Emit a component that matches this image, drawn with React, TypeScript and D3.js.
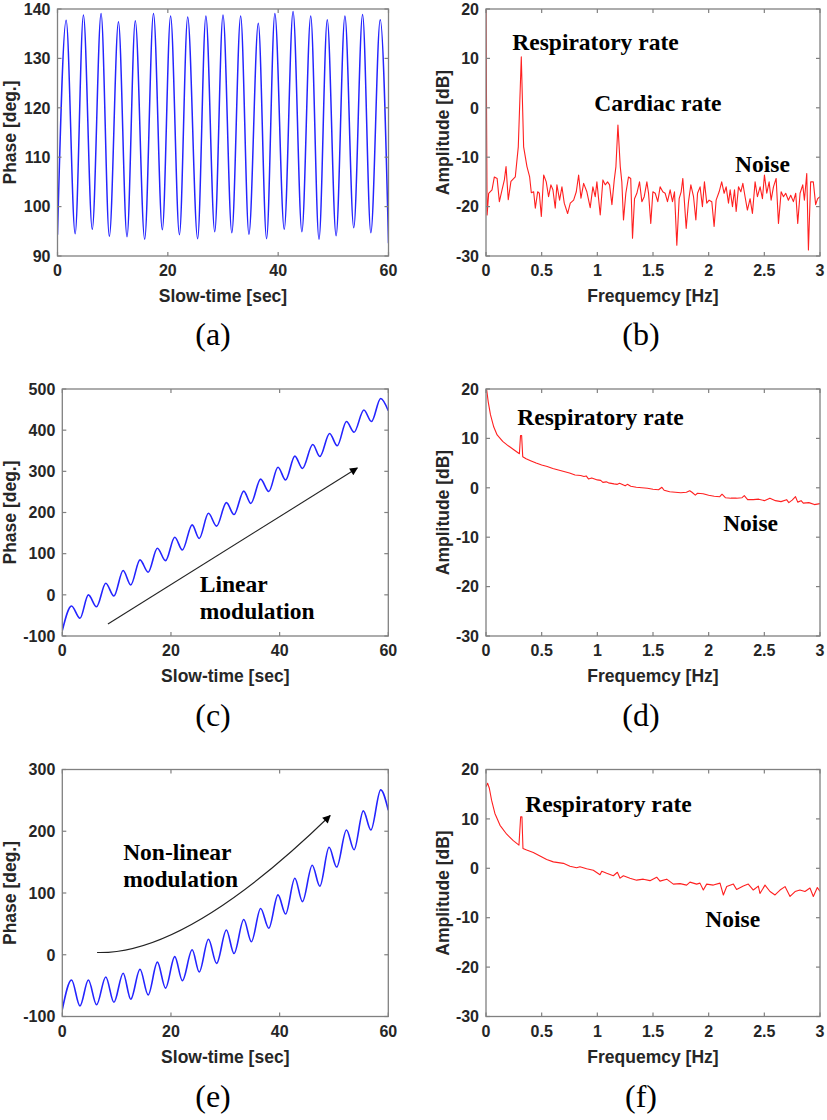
import React from 'react';
import * as d3 from 'd3';

// ---------- tick labels ----------
const timeTicks = [0, 20, 40, 60];
const phaseTicksA = [90, 100, 110, 120, 130, 140];
const phaseTicksC = [-100, 0, 100, 200, 300, 400, 500];
const phaseTicksE = [-100, 0, 100, 200, 300];
const freqTicks = [0, 0.5, 1, 1.5, 2, 2.5, 3];
const ampTicks = [-30, -20, -10, 0, 10, 20];

// ---------- (a) phase, peaks / troughs ----------
const aT = [0, 1.57, 3.2, 4.7, 6.3, 7.9, 9.4, 11.05, 12.6, 14.1, 15.8, 17.4, 19.0, 20.5, 22.1, 23.6, 25.4, 26.9, 28.5, 30.0, 31.6, 33.2, 34.7, 36.4, 37.9, 39.4, 41.1, 42.7, 44.3, 45.9, 47.4, 48.9, 50.5, 52.1, 53.7, 55.3, 56.8, 58.5, 60];
const aPhase = [94.3, 137.7, 94.5, 138.8, 95.4, 139.1, 94.0, 137.4, 93.9, 137.6, 93.4, 139.1, 95.3, 138.6, 94.3, 138.4, 93.5, 138.6, 94.9, 138.8, 94.7, 138.6, 94.4, 137.1, 93.5, 139.1, 95.4, 139.5, 94.9, 138.6, 93.4, 137.8, 94.1, 138.6, 95.7, 138.9, 94.7, 137.8, 92.6];

// ---------- (c) linear modulation ----------
const cT = [0, 1.7, 3.25, 4.8, 6.3, 8.0, 9.5, 11.2, 12.6, 14.3, 15.8, 17.5, 19.0, 20.7, 22.1, 23.9, 25.2, 26.9, 28.4, 30.2, 31.6, 33.4, 34.7, 36.5, 38.0, 39.7, 41.1, 42.8, 44.2, 46.1, 47.4, 49.2, 50.6, 52.3, 53.7, 55.5, 56.9, 58.6, 60];
const cPhase = [-87, -27, -57, 0, -29, 28, -3, 59, 24, 85, 55, 113, 83, 140, 109, 170, 137, 198, 167, 224, 195, 252, 222, 281, 251, 310, 279, 337, 307, 365, 336, 392, 362, 421, 395, 449, 421, 477, 447];

// ---------- (e) non-linear modulation ----------
const eT = [0, 1.7, 3.25, 4.8, 6.3, 8.0, 9.5, 11.2, 12.6, 14.3, 15.8, 17.5, 19.0, 20.7, 22.1, 23.9, 25.2, 26.9, 28.4, 30.2, 31.6, 33.4, 34.8, 36.5, 38.0, 39.7, 41.1, 42.8, 44.2, 46.0, 47.4, 49.1, 50.5, 52.3, 53.7, 55.4, 56.8, 58.6, 60];
const ePhase = [-89, -41, -83, -41, -81, -36, -77, -30, -72, -23.5, -65, -12, -54, -3, -42, 8, -28, 25, -14, 40, 2, 57, 21, 75, 43, 97, 66, 124, 86, 145, 111, 174, 142, 202, 170, 233, 202, 267, 234];

// ---------- (b) spectrum ----------
const bFreq = [0, 0.01, 0.024, 0.054, 0.075, 0.1, 0.12, 0.144, 0.165, 0.18, 0.2, 0.224, 0.263, 0.29, 0.317, 0.338, 0.368, 0.392, 0.407, 0.428, 0.443, 0.464, 0.479, 0.497, 0.518, 0.541, 0.562, 0.583, 0.601, 0.622, 0.637, 0.661, 0.682, 0.703, 0.733, 0.757, 0.787, 0.811, 0.832, 0.853, 0.877, 0.906, 0.936, 0.96, 0.981, 0.996, 1.026, 1.05, 1.071, 1.092, 1.11, 1.131, 1.152, 1.167, 1.185, 1.206, 1.22, 1.235, 1.256, 1.28, 1.3, 1.316, 1.334, 1.355, 1.379, 1.4, 1.421, 1.445, 1.46, 1.48, 1.499, 1.52, 1.543, 1.564, 1.588, 1.609, 1.63, 1.654, 1.675, 1.693, 1.714, 1.735, 1.753, 1.768, 1.783, 1.798, 1.819, 1.84, 1.864, 1.885, 1.9, 1.923, 1.944, 1.962, 1.983, 2.004, 2.028, 2.049, 2.067, 2.094, 2.117, 2.139, 2.157, 2.178, 2.193, 2.214, 2.232, 2.247, 2.268, 2.289, 2.307, 2.327, 2.348, 2.372, 2.393, 2.417, 2.438, 2.462, 2.483, 2.501, 2.522, 2.543, 2.561, 2.582, 2.606, 2.627, 2.651, 2.672, 2.692, 2.716, 2.737, 2.761, 2.782, 2.8, 2.821, 2.845, 2.86, 2.881, 2.896, 2.916, 2.94, 2.961, 2.979, 3.0];
const bAmp = [20, -21.7, -17.3, -16.6, -14, -14.3, -19, -16.6, -14.6, -11.9, -18.6, -14.9, -14, -7.9, 10.3, -7.9, -11.9, -14, -17.2, -17, -20.3, -17, -17.3, -22, -13.6, -15, -18, -15.6, -16.6, -20.3, -15.6, -18.7, -16, -19.3, -21.4, -19.3, -18.7, -17, -13.6, -18.3, -15.3, -17, -20.2, -16, -18, -15, -21.7, -14.6, -15.6, -15, -15.6, -19.6, -14.6, -11.9, -3.5, -11.9, -15, -22.7, -17.3, -14, -14.3, -26.4, -18.4, -17.3, -15, -19, -18, -15, -17.3, -23.4, -17, -17.3, -19, -16, -17, -17.3, -19, -16.6, -19, -17, -27.8, -18.4, -17, -14.3, -19.3, -24.4, -19, -15.6, -18, -22.7, -17.3, -16, -20, -15, -19.3, -18.7, -19, -24, -18.7, -17, -15, -17.3, -16, -19.3, -16.6, -20, -16.6, -21, -16, -17, -15.3, -18, -20.7, -18.4, -21.4, -15, -18, -16, -18.4, -13.6, -17.3, -15, -18.7, -16, -14.3, -23.4, -17, -18, -17.3, -18.7, -17.7, -19, -17.3, -23.4, -17.3, -15.6, -18.7, -13.3, -28.8, -15, -15, -19.6, -18.4, -18];

// ---------- (d) spectrum ----------
const dFreq = [0.005, 0.02, 0.04, 0.07, 0.1, 0.15, 0.2, 0.25, 0.3, 0.31, 0.32, 0.33, 0.36, 0.4, 0.45, 0.5, 0.55, 0.6, 0.65, 0.7, 0.75, 0.8, 0.85, 0.88, 0.9, 0.92, 0.95, 1.0, 1.03, 1.05, 1.08, 1.1, 1.15, 1.18, 1.2, 1.25, 1.27, 1.3, 1.35, 1.4, 1.45, 1.5, 1.55, 1.58, 1.6, 1.65, 1.7, 1.75, 1.8, 1.83, 1.85, 1.88, 1.9, 1.95, 2.0, 2.05, 2.1, 2.12, 2.15, 2.2, 2.25, 2.3, 2.32, 2.35, 2.4, 2.45, 2.5, 2.55, 2.6, 2.65, 2.7, 2.72, 2.75, 2.78, 2.8, 2.83, 2.85, 2.9, 2.95, 3.0];
const dAmp = [20, 17.4, 14.8, 12.3, 10.7, 9.4, 8.5, 7.7, 6.9, 10.6, 10.6, 6.3, 5.9, 5.5, 5.0, 4.6, 4.3, 3.9, 3.6, 3.3, 3.0, 2.6, 2.5, 2.3, 2.4, 1.8, 2.0, 1.6, 1.5, 1.1, 1.2, 1.0, 0.8, 0.7, 0.9, 0.4, 0.7, 0.3, 0.1, 0.0, -0.1, -0.3, -0.4, 0.1, -0.5, -0.8, -0.9, -1.0, -0.9, -0.6, -0.9, -1.5, -1.1, -1.2, -1.5, -1.7, -1.8, -1.3, -2.0, -2.1, -2.1, -2.0, -1.6, -2.4, -2.4, -2.3, -2.6, -2.1, -2.6, -2.8, -2.4, -3.0, -2.5, -1.8, -2.9, -2.6, -3.1, -3.0, -3.4, -3.2];

// ---------- (f) spectrum ----------
const fFreq = [0, 0.015, 0.03, 0.05, 0.08, 0.126, 0.186, 0.245, 0.296, 0.311, 0.323, 0.332, 0.365, 0.425, 0.485, 0.545, 0.605, 0.695, 0.754, 0.814, 0.844, 0.904, 0.964, 1.024, 1.04, 1.084, 1.144, 1.18, 1.204, 1.234, 1.293, 1.353, 1.413, 1.473, 1.533, 1.563, 1.623, 1.683, 1.743, 1.802, 1.832, 1.892, 1.922, 1.952, 1.982, 2.042, 2.102, 2.132, 2.162, 2.222, 2.251, 2.311, 2.356, 2.401, 2.446, 2.461, 2.506, 2.551, 2.596, 2.641, 2.686, 2.731, 2.776, 2.82, 2.865, 2.91, 2.94, 2.976, 3.0];
const fAmp = [16.5, 17.2, 16.2, 13.8, 11.1, 8.7, 6.9, 5.6, 4.7, 10.4, 10.4, 4.0, 3.7, 3.2, 2.5, 1.8, 1.3, 1.0, 0.4, 0.1, 0.3, -0.1, -0.4, -1.3, -0.6, -1.0, -1.5, -0.8, -2.0, -1.5, -2.0, -2.4, -2.2, -2.5, -1.8, -2.6, -2.2, -3.2, -3.1, -3.4, -2.8, -3.2, -3.0, -4.4, -3.2, -3.4, -3.0, -5.4, -3.7, -3.2, -4.3, -3.6, -3.2, -4.4, -3.6, -5.1, -3.4, -4.7, -5.4, -4.4, -3.7, -5.7, -4.7, -4.4, -4.7, -4.0, -5.7, -3.9, -4.7];

const SANS = '"Liberation Sans", Arial, sans-serif';
const SERIF = '"Liberation Serif", "Times New Roman", serif';
const TXT = '#262626';

type Ann = { text: string; x: number; y: number };
type Arrow = { x0: number; y0: number; x1: number; y1: number; cx?: number; cy?: number };

interface PanelProps {
  id: string;
  left: number; top: number; width: number; height: number;
  xDomain: [number, number]; yDomain: [number, number];
  xTicks: number[]; yTicks: number[];
  xLabel: string; yLabel: string; yLabelX: number;
  xs: number[]; ys: number[];
  color: string; smooth: boolean; lw: number;
  anns: Ann[]; arrow?: Arrow;
  tag: string; tagX: number; tagY: number;
}

function Panel(p: PanelProps) {
  const x = d3.scaleLinear().domain(p.xDomain).range([p.left, p.left + p.width]);
  const y = d3.scaleLinear().domain(p.yDomain).range([p.top + p.height, p.top]);
  const line = d3.line<number>()
    .x((_, i) => x(p.xs[i]))
    .y((d) => y(d))
    .curve(p.smooth ? d3.curveMonotoneX : d3.curveLinear);
  const tl = 4;
  const bottom = p.top + p.height;
  const right = p.left + p.width;
  let arrowPath = '';
  if (p.arrow) {
    const a = p.arrow;
    const path = d3.path();
    path.moveTo(x(a.x0), y(a.y0));
    if (a.cx !== undefined && a.cy !== undefined) path.quadraticCurveTo(x(a.cx), y(a.cy), x(a.x1), y(a.y1));
    else path.lineTo(x(a.x1), y(a.y1));
    arrowPath = path.toString();
  }
  return (
    <g>
      <defs>
        <clipPath id={`clip-${p.id}`}>
          <rect x={p.left} y={p.top} width={p.width} height={p.height} />
        </clipPath>
      </defs>
      <path d={line(p.ys) || ''} fill="none" stroke={p.color} strokeWidth={p.lw} clipPath={`url(#clip-${p.id})`} strokeLinejoin="round" />
      <rect x={p.left} y={p.top} width={p.width} height={p.height} fill="none" stroke="#808080" strokeWidth={1.3} />
      {p.xTicks.map((t) => (
        <g key={`xt${t}`}>
          <line x1={x(t)} x2={x(t)} y1={bottom} y2={bottom - tl} stroke="#808080" strokeWidth={1.2} />
          <line x1={x(t)} x2={x(t)} y1={p.top} y2={p.top + tl} stroke="#808080" strokeWidth={1.2} />
          <text x={x(t)} y={bottom + 20} textAnchor="middle" fontFamily={SANS} fontWeight="bold" fontSize={16} fill={TXT}>{String(t)}</text>
        </g>
      ))}
      {p.yTicks.map((t) => (
        <g key={`yt${t}`}>
          <line x1={p.left} x2={p.left + tl} y1={y(t)} y2={y(t)} stroke="#808080" strokeWidth={1.2} />
          <line x1={right} x2={right - tl} y1={y(t)} y2={y(t)} stroke="#808080" strokeWidth={1.2} />
          <text x={p.left - 7} y={y(t)} dy="0.36em" textAnchor="end" fontFamily={SANS} fontWeight="bold" fontSize={16} fill={TXT}>{String(t)}</text>
        </g>
      ))}
      <text x={(p.left + right) / 2} y={bottom + 46} textAnchor="middle" fontFamily={SANS} fontWeight="bold" fontSize={17.5} fill={TXT}>{p.xLabel}</text>
      <text transform={`translate(${p.yLabelX},${p.top + p.height / 2}) rotate(-90)`} textAnchor="middle" fontFamily={SANS} fontWeight="bold" fontSize={17.5} fill={TXT}>{p.yLabel}</text>
      {p.anns.map((a, i) => (
        <text key={`an${i}`} x={x(a.x)} y={y(a.y)} fontFamily={SERIF} fontWeight="bold" fontSize={23.5} fill="#000">{a.text}</text>
      ))}
      {p.arrow && (
        <path d={arrowPath} fill="none" stroke="#222" strokeWidth={1.1} markerEnd="url(#arrowhead)" />
      )}
      <text x={p.tagX} y={p.tagY} textAnchor="middle" fontFamily={SERIF} fontSize={32} fill="#000">{p.tag}</text>
    </g>
  );
}

export default function App() {
  const W = 827, H = 1120;
  const rowTops = [9, 389, 769.5];
  const tagYs = [345, 726, 1107];
  const PH = 247;
  return (
    <svg width={W} height={H} viewBox={`0 0 ${W} ${H}`} style={{ position: 'absolute', left: 0, top: 0, background: '#fff' }}>
      <defs>
        <marker id="arrowhead" viewBox="0 0 10 10" refX="9" refY="5" markerWidth="10" markerHeight="8" markerUnits="userSpaceOnUse" orient="auto">
          <path d="M0,0 L10,5 L0,10 z" fill="#000" />
        </marker>
      </defs>
      <rect x={0} y={0} width={W} height={H} fill="#fff" />
      <Panel id="a" left={57.5} top={rowTops[0]} width={331} height={PH} xDomain={[0, 60]} yDomain={[90, 140]}
        xTicks={timeTicks} yTicks={phaseTicksA} xLabel="Slow-time [sec]" yLabel="Phase [deg.]" yLabelX={16}
        xs={aT} ys={aPhase} color="#2424ff" smooth lw={1.5} anns={[]} tag="(a)" tagX={213} tagY={tagYs[0]} />
      <Panel id="b" left={486} top={rowTops[0]} width={334} height={PH} xDomain={[0, 3]} yDomain={[-30, 20]}
        xTicks={freqTicks} yTicks={ampTicks} xLabel="Frequemcy [Hz]" yLabel="Amplitude [dB]" yLabelX={449}
        xs={bFreq} ys={bAmp} color="#ff2020" smooth={false} lw={1.1}
        anns={[{ text: 'Respiratory rate', x: 0.236, y: 11.7 }, { text: 'Cardiac rate', x: 0.972, y: -0.65 }, { text: 'Noise', x: 2.237, y: -13 }]}
        tag="(b)" tagX={641} tagY={tagYs[0]} />
      <Panel id="c" left={62.3} top={rowTops[1]} width={326} height={PH} xDomain={[0, 60]} yDomain={[-100, 500]}
        xTicks={timeTicks} yTicks={phaseTicksC} xLabel="Slow-time [sec]" yLabel="Phase [deg.]" yLabelX={16}
        xs={cT} ys={cPhase} color="#2424ff" smooth lw={1.6}
        anns={[{ text: 'Linear', x: 25.3, y: 6.9 }, { text: 'modulation', x: 25.3, y: -58.7 }]}
        arrow={{ x0: 8.4, y0: -71, x1: 54.3, y1: 308 }}
        tag="(c)" tagX={213} tagY={tagYs[1]} />
      <Panel id="d" left={486} top={rowTops[1]} width={334} height={PH} xDomain={[0, 3]} yDomain={[-30, 20]}
        xTicks={freqTicks} yTicks={ampTicks} xLabel="Frequemcy [Hz]" yLabel="Amplitude [dB]" yLabelX={449}
        xs={dFreq} ys={dAmp} color="#ff2020" smooth={false} lw={1.1}
        anns={[{ text: 'Respiratory rate', x: 0.281, y: 12.7 }, { text: 'Noise', x: 2.13, y: -8.7 }]}
        tag="(d)" tagX={641} tagY={tagYs[1]} />
      <Panel id="e" left={62.3} top={rowTops[2]} width={326} height={PH} xDomain={[0, 60]} yDomain={[-100, 300]}
        xTicks={timeTicks} yTicks={phaseTicksE} xLabel="Slow-time [sec]" yLabel="Phase [deg.]" yLabelX={16}
        xs={eT} ys={ePhase} color="#2424ff" smooth lw={1.6}
        anns={[{ text: 'Non-linear', x: 11.2, y: 154 }, { text: 'modulation', x: 11.2, y: 109 }]}
        arrow={{ x0: 6.4, y0: 3.6, x1: 49.3, y1: 225.5, cx: 22.9, cy: -0.4 }}
        tag="(e)" tagX={213} tagY={tagYs[2]} />
      <Panel id="f" left={486} top={rowTops[2]} width={334} height={PH} xDomain={[0, 3]} yDomain={[-30, 20]}
        xTicks={freqTicks} yTicks={ampTicks} xLabel="Frequemcy [Hz]" yLabel="Amplitude [dB]" yLabelX={449}
        xs={fFreq} ys={fAmp} color="#ff2020" smooth={false} lw={1.1}
        anns={[{ text: 'Respiratory rate', x: 0.353, y: 11.3 }, { text: 'Noise', x: 1.97, y: -11.8 }]}
        tag="(f)" tagX={641} tagY={tagYs[2]} />
    </svg>
  );
}
